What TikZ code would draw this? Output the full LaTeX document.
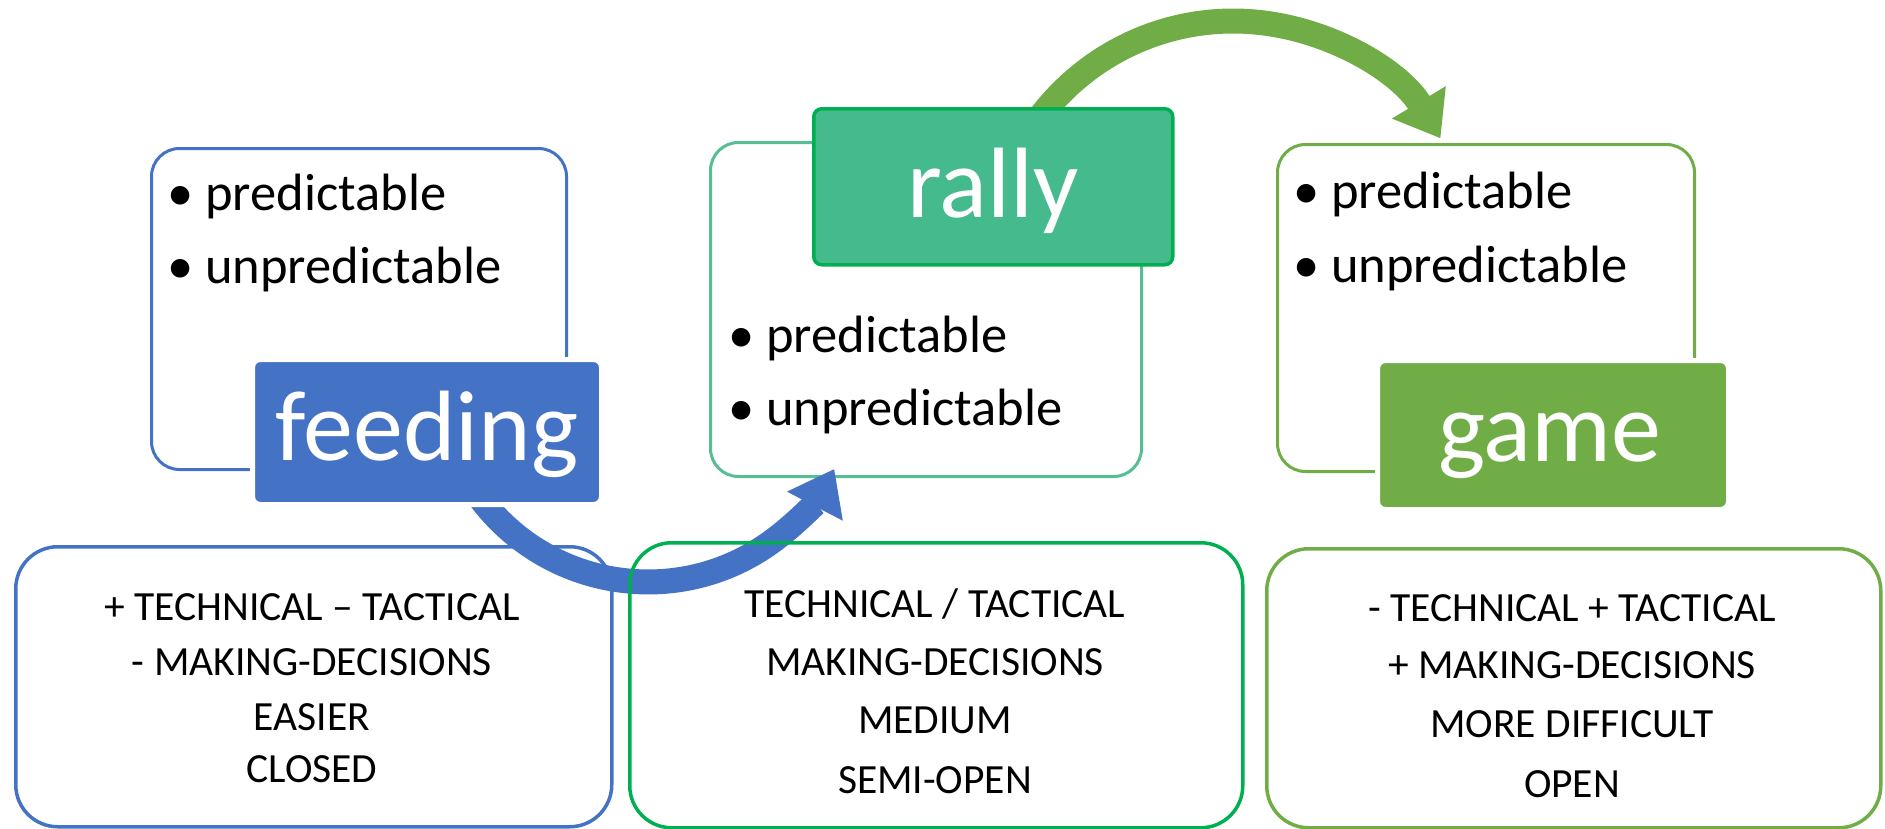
\documentclass[tikz,border=0pt]{standalone}
\usepackage{fontspec}
\setmainfont{Carlito}
\usetikzlibrary{arrows.meta}
\definecolor{cblue}{HTML}{4472C4}
\definecolor{cgreen}{HTML}{70AD47}
\definecolor{cdark}{HTML}{00B050}
\definecolor{crally}{HTML}{45BA8C}
\definecolor{cteal}{HTML}{55BE93}
\begin{document}
\begin{tikzpicture}[x=1pt,y=-1pt,
  outl/.style={draw, line width=3pt, rounded corners=28pt, anchor=north west, inner sep=0pt},
  lowbox/.style={draw, line width=3.5pt, rounded corners=42pt, anchor=north west, inner sep=0pt},
  fillbox/.style={rounded corners=8pt, anchor=north west, inner sep=0pt},
  title/.style={text=white, anchor=base, inner sep=0pt, font=\fontsize{100}{100}\selectfont},
  bul/.style={anchor=base west, inner sep=0pt, font=\fontsize{52.5}{60}\selectfont},
  low/.style={anchor=base, inner sep=0pt, font=\fontsize{41.5}{50}\selectfont},
  band/.style={line width=25pt},
  head/.style={-{Triangle[length=42pt,width=60pt]}}
]
\useasboundingbox (0,0) rectangle (1885,828);
\newcommand{\bl}[1]{\makebox[38pt][l]{\textbullet}#1}
% top outline boxes
\node (o1) [outl, draw=cblue, minimum width=415pt, minimum height=321pt] at (150,147) {};
\node (o2) [outl, draw=cteal, minimum width=431pt, minimum height=334pt] at (709,141) {};
\node (o3) [outl, draw=cgreen, minimum width=417pt, minimum height=327pt] at (1276,143) {};
% bottom left box
\node (l1) [lowbox, draw=cblue, minimum width=596pt, minimum height=280pt] at (14,545) {};
% arrows
\coordinate (gs) at (1034.8,124.2);
\coordinate (bs) at (476,492.4);
\draw[cgreen, band, head] (gs) arc[start angle=-145, end angle=-31, radius=242];
\draw[cblue, band, head] (bs) arc[start angle=145, end angle=27.5, radius=210];
% other bottom boxes
\node (l2) [lowbox, draw=cdark, minimum width=613pt, minimum height=285pt] at (628,541) {};
\node (l3) [lowbox, draw=cgreen, minimum width=614pt, minimum height=279pt] at (1265,547) {};
% filled title boxes
\node (f1) [fillbox, fill=cblue, draw=white, line width=5pt, minimum width=349pt, minimum height=145pt] at (250,357) {};
\node (f2) [fillbox, fill=crally, draw=cdark, line width=3.5pt, minimum width=359pt, minimum height=156pt] at (812,107) {};
\node (f3) [fillbox, fill=cgreen, draw=white, line width=5pt, minimum width=351pt, minimum height=149pt] at (1375,358) {};
\node (t1) [title] at (427,460) {feeding};
\node (t2) [title] at (993,217) {rally};
\node (t3) [title] at (1550,461) {game};
% bullets
\node (b11) [bul] at (167,210) {\bl{predictable}};
\node (b12) [bul] at (167,283) {\bl{unpredictable}};
\node (b21) [bul] at (728,352) {\bl{predictable}};
\node (b22) [bul] at (728,425) {\bl{unpredictable}};
\node (b31) [bul] at (1293,208) {\bl{predictable}};
\node (b32) [bul] at (1293,282) {\bl{unpredictable}};
% bottom texts
\node (a1) [low] at (312,620) {+ TECHNICAL – TACTICAL};
\node (a2) [low] at (312,675) {- MAKING-DECISIONS};
\node (a3) [low] at (312,730) {EASIER};
\node (a4) [low] at (312,782) {CLOSED};
\node (m1) [low] at (935,617) {TECHNICAL / TACTICAL};
\node (m2) [low] at (935,675) {MAKING-DECISIONS};
\node (m3) [low] at (935,733) {MEDIUM};
\node (m4) [low] at (935,793) {SEMI-OPEN};
\node (r1) [low] at (1572,621) {- TECHNICAL + TACTICAL};
\node (r2) [low] at (1572,678) {+ MAKING-DECISIONS};
\node (r3) [low] at (1572,737) {MORE DIFFICULT};
\node (r4) [low] at (1572,797) {OPEN};
\end{tikzpicture}
\end{document}
